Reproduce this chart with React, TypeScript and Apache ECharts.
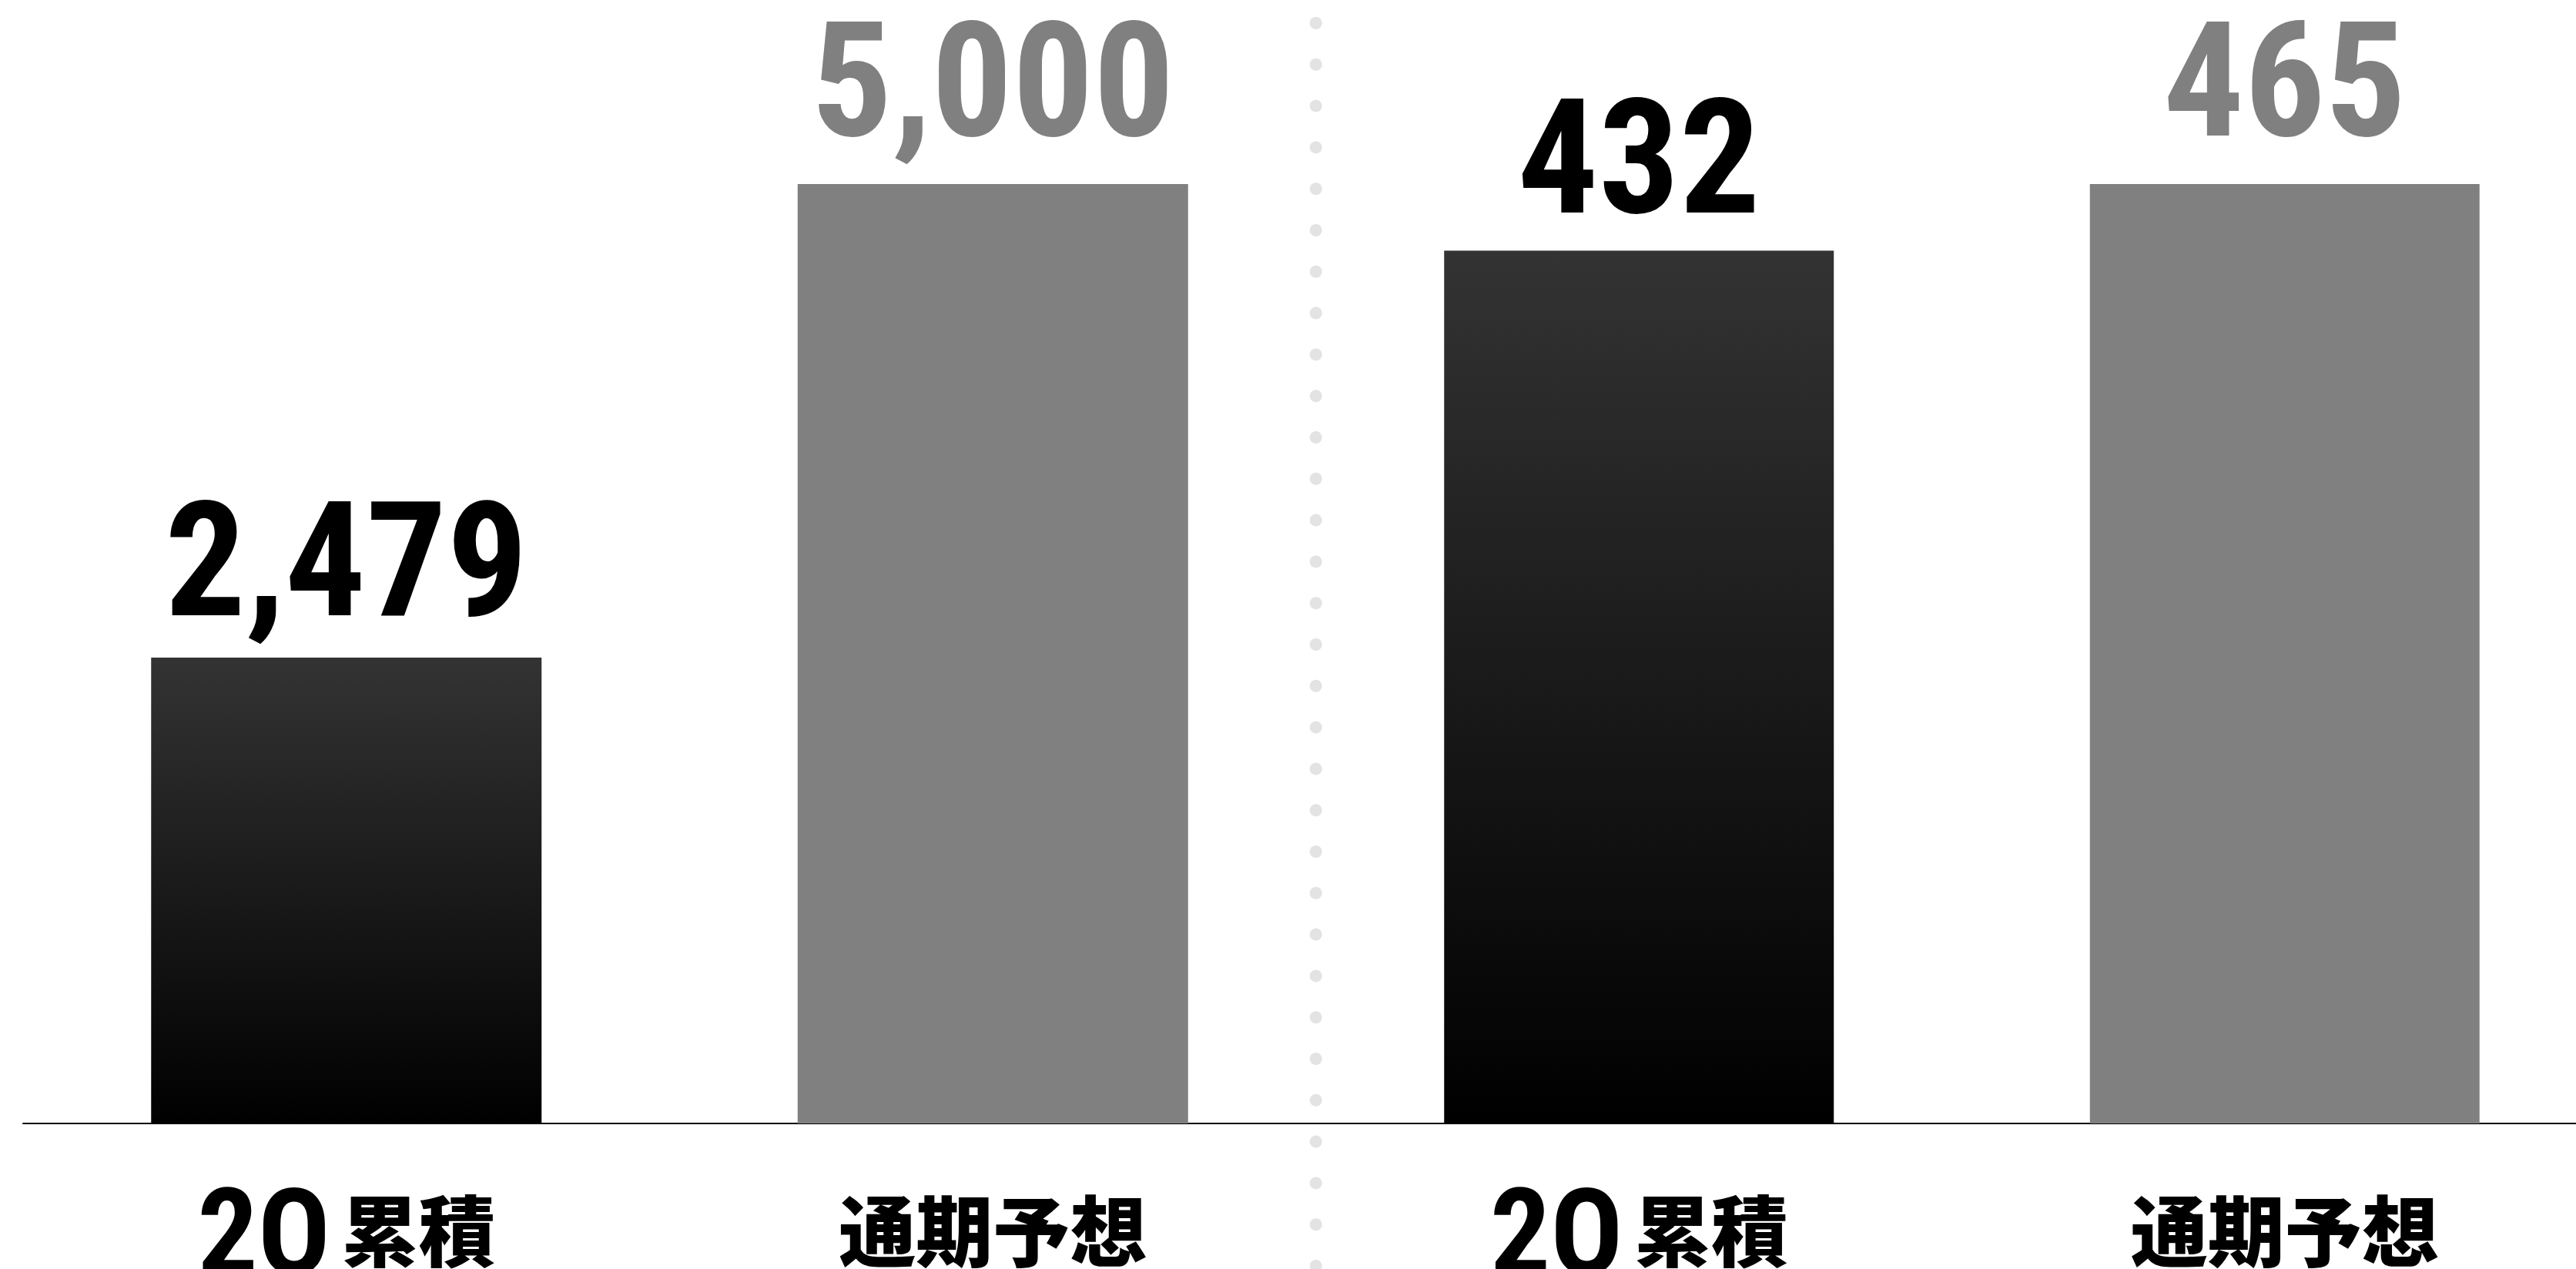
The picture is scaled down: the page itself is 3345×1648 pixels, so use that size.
import React, { useEffect, useRef } from "react";
import * as echarts from "echarts";

// ---- data ----
const categories = ["2Q累積", "通期予想"];
const leftValues = [2479, 5000];
const rightValues = [432, 465];

// ---- layout / style ----
const W = 3345;
const H = 1648;
const BASE_Y = 1459;
const TOP_Y = 239;
const DIGIT_FONT = "'Roboto Condensed', 'Open Sans Condensed', sans-serif";
const JP_FONT = "'Noto Sans CJK JP', 'Noto Sans CJK SC', sans-serif";
const GRAY = "#808080";

function fmtCat(v: string) {
  const m = v.match(/^([0-9A-Za-z]+)(.*)$/);
  if (m) return `{num|${m[1]}}{gap|}{jp|${m[2]}}`;
  return `{jp|${v}}`;
}

function buildSeriesData(values: number[], distances: number[]) {
  return values.map((v, i) => {
    const isActual = i === 0;
    return {
      value: v,
      itemStyle: {
        color: isActual
          ? new echarts.graphic.LinearGradient(0, 0, 0, 1, [
              { offset: 0, color: "#333333" },
              { offset: 1, color: "#000000" },
            ])
          : GRAY,
      },
      label: {
        show: true,
        position: "top",
        distance: distances[i],
        color: isActual ? "#000000" : GRAY,
        fontFamily: DIGIT_FONT,
        fontWeight: "bold",
        fontSize: 208,
        formatter: (p: any) => Number(p.value).toLocaleString("en-US"),
      },
    };
  });
}

export default function App() {
  const ref = useRef<HTMLDivElement>(null);
  useEffect(() => {
    if (!ref.current) return;
    const chart = echarts.init(ref.current, undefined, { renderer: "svg" });
    const xAxisCommon = {
      type: "category",
      data: categories,
      axisLine: { show: true, lineStyle: { color: "#000000", width: 2 } },
      axisTick: { show: false },
      splitLine: { show: false },
      axisLabel: {
        margin: 54,
        formatter: fmtCat,
        rich: {
          num: {
            fontFamily: DIGIT_FONT,
            fontWeight: "bold",
            fontSize: 156,
            lineHeight: 160,
            padding: [14, 0, 0, 0],
            color: "#000000",
          },
          gap: { width: 14, lineHeight: 160 },
          jp: {
            fontFamily: JP_FONT,
            fontWeight: 900,
            fontSize: 100,
            lineHeight: 160,
            color: "#000000",
          },
        },
      },
    };
    const dots: any[] = Array.from({ length: 31 }, (_, k) => ({
      type: "circle",
      silent: true,
      z: 10,
      shape: { cx: 1708.7, cy: 30 + 53.8 * k, r: 8 },
      style: { fill: "#e3e3e3" },
    }));
    chart.setOption({
      animation: false,
      backgroundColor: "#ffffff",
      grid: [
        { left: 30, width: 1679, top: TOP_Y, height: BASE_Y - TOP_Y, outerBoundsMode: "none", containLabel: false },
        { left: 1709, width: 1677, top: TOP_Y, height: BASE_Y - TOP_Y, outerBoundsMode: "none", containLabel: false },
      ],
      xAxis: [
        { ...xAxisCommon, gridIndex: 0 },
        { ...xAxisCommon, gridIndex: 1 },
      ],
      yAxis: [
        { type: "value", gridIndex: 0, min: 0, max: Math.max(...leftValues), show: false },
        { type: "value", gridIndex: 1, min: 0, max: Math.max(...rightValues), show: false },
      ],
      series: [
        {
          type: "bar",
          xAxisIndex: 0,
          yAxisIndex: 0,
          barWidth: 507,
          data: buildSeriesData(leftValues, [22, 30]),
        },
        {
          type: "bar",
          xAxisIndex: 1,
          yAxisIndex: 1,
          barWidth: 506,
          data: buildSeriesData(rightValues, [17, 30]),
        },
      ],
      graphic: dots,
    });
    return () => chart.dispose();
  }, []);
  return (
    <div
      ref={ref}
      style={{ position: "fixed", left: 0, top: 0, width: W, height: H, background: "#fff" }}
    />
  );
}
